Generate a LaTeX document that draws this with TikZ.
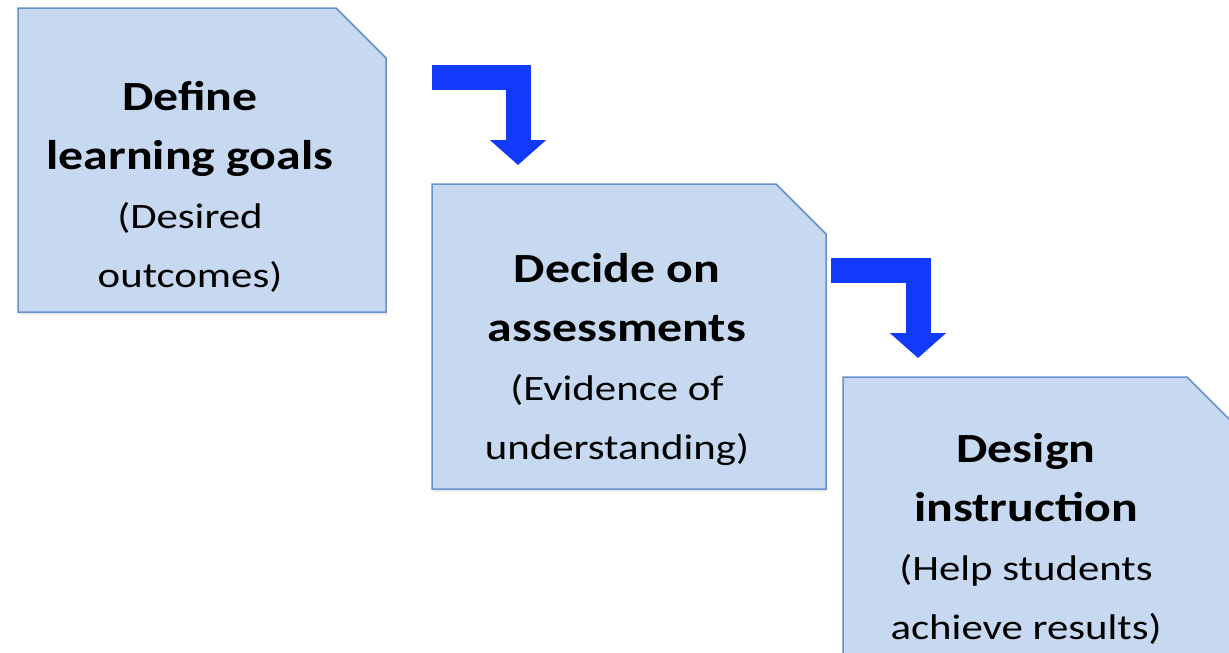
\documentclass[tikz,border=0pt]{standalone}
\usepackage{fontspec}
\setmainfont{Carlito}[FakeStretch=1.2]
\usepackage{xcolor}
\usetikzlibrary{calc, arrows.meta, shadows}

\definecolor{boxfill}{RGB}{198,217,240}
\definecolor{boxline}{RGB}{104,146,204}
\definecolor{flowblue}{RGB}{18,58,250}

\begin{document}
\begin{tikzpicture}[x=1pt, y=-1pt,
		box/.style = {rectangle, inner sep=0pt, outer sep=0pt},
		snip/.style = {fill=boxfill, draw=boxline, line width=1.5pt,
			drop shadow={opacity=0.2, shadow xshift=1pt, shadow yshift=-2.5pt}},
		txt/.style = {align=center, inner sep=0pt, font=\fontsize{41.5}{59}\selectfont},
		flow/.style = {draw=flowblue, line width=25pt, -{Triangle[width=55pt, length=25pt]}}]
		\def\cut{50};
		\def\lite{\fontsize{35.7}{59}\selectfont}
		
		\useasboundingbox (0,0) rectangle (1229,653);
		\clip (0,0) rectangle (1229,653);
		
		\node[box, minimum width=368pt, minimum height=304pt] (goals) at (202,160) {};
		\node[box, minimum width=394pt, minimum height=305pt] (assess) at (629,336.5) {};
		\node[box, minimum width=394pt, minimum height=290pt] (design) at (1040,522) {};
		
		\foreach \n in {goals, assess, design}
			\path[snip] (\n.south west) |- ([xshift=-\cut pt]\n.north east)
				-- ([yshift=-\cut pt]\n.north east) -- (\n.south east) -- cycle;
		
		\node[txt] (goals text) at ([xshift=-12pt, yshift=-26.5pt]goals.center)
			{\bfseries Define\\ \bfseries learning goals\\ \lite (Desired\\ \lite outcomes)};
		\node[txt] (assess text) at ([xshift=-12pt, yshift=-23.5pt]assess.center)
			{\bfseries Decide on\\ \bfseries assessments\\ \lite (Evidence of\\ \lite understanding)};
		\node[txt] (design text) at ([xshift=-14pt, yshift=-16.5pt]design.center)
			{\bfseries Design\\ \bfseries instruction\\ \lite (Help students\\ \lite achieve results)};
		
		\draw[flow] ([yshift=-69.5pt]assess.west |- goals.north)
			-| ([xshift=86pt, yshift=19pt]assess.north west);
		\draw[flow] ([xshift=-12pt, yshift=-86.5pt]design.west |- assess.north)
			-| ([xshift=75pt, yshift=19pt]design.north west);
	\end{tikzpicture}
\end{document}
